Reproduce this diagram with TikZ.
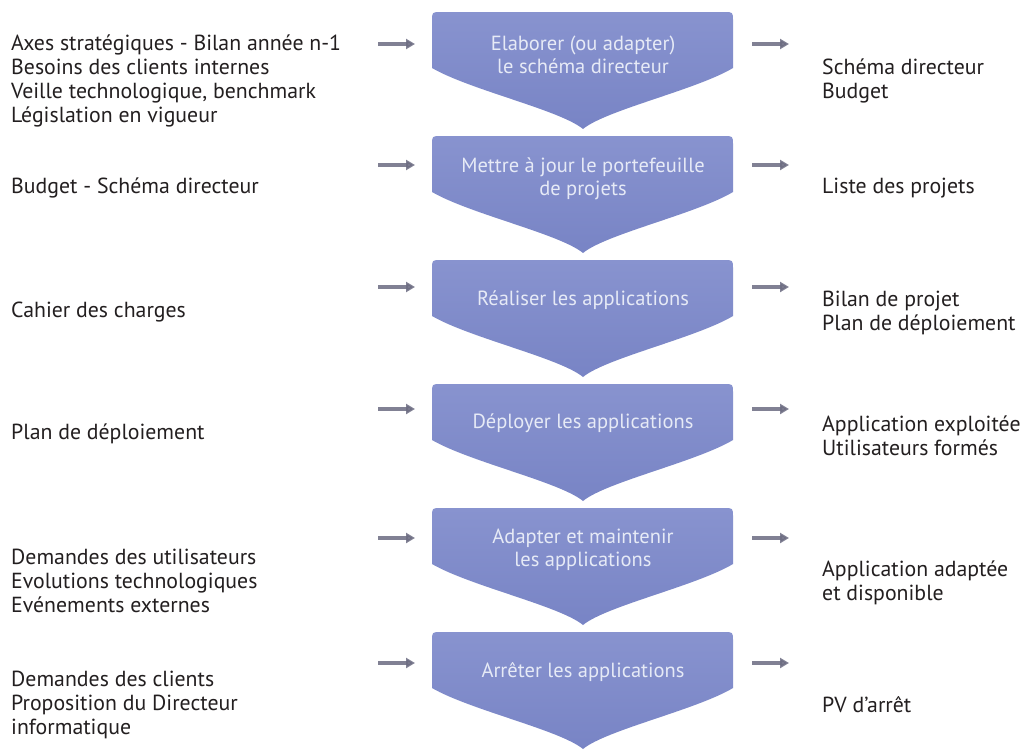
\documentclass[tikz,border=0pt]{standalone}
\usepackage{fontspec}
\setmainfont{PT Sans}
\usetikzlibrary{arrows.meta}
\definecolor{chevtop}{HTML}{8893CF}
\definecolor{chevbot}{HTML}{7884C5}
\definecolor{chevtext}{HTML}{E6EAF6}
\definecolor{labeltext}{HTML}{231F20}
\definecolor{flowarrow}{HTML}{6C6C82}
\tikzset{
  chevron/.style={top color=chevtop, bottom color=chevbot, draw=none},
  steptext/.style={text=chevtext, font=\fontsize{20.5}{23}\selectfont, align=center, inner sep=0pt},
  inlabel/.style={text=labeltext, font=\fontsize{21.8}{24}\selectfont, align=left, anchor=west, inner sep=0pt},
  flow/.style={draw=flowarrow, line width=3.6pt, -{Triangle[length=9pt,width=10pt]}, opacity=0.85},
}
% one chevron whose top edge sits at y = #1
\newcommand{\chevronat}[1]{%
  \path[chevron] (432,#1+56) -- (432,#1+9) .. controls (432,#1) .. (441,#1)
    -- (724,#1) .. controls (733,#1) .. (733,#1+9) -- (733,#1+56)
    .. controls (696,#1+78) and (606,#1+98) .. (583,#1+117)
    .. controls (560,#1+98) and (470,#1+78) .. (432,#1+56) -- cycle;}
\begin{document}
\begin{tikzpicture}[x=1pt,y=-1pt]
\useasboundingbox (0,0) rectangle (1028,750);
\fill[white] (0,0) rectangle (1028,750);

% process chevrons
\foreach \t in {12,136,260,384,508,632} {\chevronat{\t}}

% step captions
\node[steptext] (s1) at (583,55) {Elaborer (ou adapter)\\le schéma directeur};
\node[steptext] (s2) at (583,179) {Mettre à jour le portefeuille\\de projets};
\node[steptext] (s3) at (583,300) {Réaliser les applications};
\node[steptext] (s4) at (583,423) {Déployer les applications};
\node[steptext] (s5) at (583,550) {Adapter et maintenir\\les applications};
\node[steptext] (s6) at (583,672) {Arrêter les applications};

% inputs
\node[inlabel] (i1) at (11,81) {Axes stratégiques - Bilan année n-1\\Besoins des clients internes\\Veille technologique, benchmark\\Législation en vigueur};
\node[inlabel] (i2) at (11,188) {Budget - Schéma directeur};
\node[inlabel] (i3) at (11,312) {Cahier des charges};
\node[inlabel] (i4) at (11,434) {Plan de déploiement};
\node[inlabel] (i5) at (11,581) {Demandes des utilisateurs\\Evolutions technologiques\\Evénements externes};
\node[inlabel] (i6) at (11,705) {Demandes des clients\\Proposition du Directeur\\informatique};

% outputs
\node[inlabel] (o1) at (822,81) {Schéma directeur\\Budget};
\node[inlabel] (o2) at (822,188) {Liste des projets};
\node[inlabel] (o3) at (822,313) {Bilan de projet\\Plan de déploiement};
\node[inlabel] (o4) at (822,436) {Application exploitée\\Utilisateurs formés};
\node[inlabel] (o5) at (822,583) {Application adaptée\\et disponible};
\node[inlabel] (o6) at (822,705) {PV d’arrêt};

% input and output arrows
\foreach \k/\y in {1/44,2/165,3/287,4/409,5/538,6/663} {
  \coordinate (ia\k) at (378,\y);
  \coordinate (ib\k) at (415,\y);
  \coordinate (oa\k) at (752,\y);
  \coordinate (ob\k) at (789,\y);
  \draw[flow] (ia\k) -- (ib\k);
  \draw[flow] (oa\k) -- (ob\k);
}
\end{tikzpicture}
\end{document}
